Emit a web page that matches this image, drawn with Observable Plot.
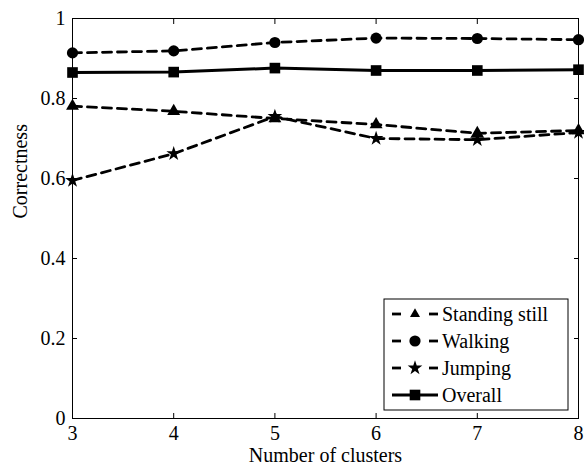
<!DOCTYPE html>
<html>
<head>
<meta charset="utf-8">
<script src="https://cdn.jsdelivr.net/npm/d3@7"></script>
<script src="https://cdn.jsdelivr.net/npm/@observablehq/plot@0.6"></script>
<style>
  html, body { margin: 0; padding: 0; background: white; }
  #chart { width: 584px; height: 469px; }
</style>
</head>
<body>
<div id="chart"></div>
<script>
const clusters = [3, 4, 5, 6, 7, 8];
const standingStill = [0.781, 0.768, 0.750, 0.735, 0.713, 0.720];
const walking = [0.914, 0.919, 0.940, 0.951, 0.950, 0.947];
const jumping = [0.595, 0.662, 0.755, 0.700, 0.697, 0.715];
const overall = [0.865, 0.866, 0.876, 0.870, 0.870, 0.872];

const seriesNames = ["Standing still", "Walking", "Jumping", "Overall"];
const seriesSymbols = ["triangle", "circle", "star", "square"];
const xTicks = [3, 4, 5, 6, 7, 8];
const yTicks = [0, 0.2, 0.4, 0.6, 0.8, 1];
const yTickLabels = ["0", "0.2", "0.4", "0.6", "0.8", "1"];
const xLabel = "Number of clusters";
const yLabel = "Correctness";

const seriesValues = [standingStill, walking, jumping, overall];
const tables = seriesValues.map(vals => clusters.map((c, i) => ({c, v: vals[i]})));

const font = "'Liberation Serif', 'DejaVu Serif', serif";
const dash = "9,6";
const dashes = [dash, dash, dash, null];
const symR = [4.8, 5.6, 4.6, 6];

const marks = [
  Plot.frame({stroke: "black", strokeWidth: 1}),
  Plot.axisX(xTicks, {anchor: "bottom", tickSize: -5, tickPadding: 12, label: null, fontSize: 20, fontFamily: font}),
  Plot.axisX(xTicks, {anchor: "top", tickSize: -5, tickFormat: () => "", label: null}),
  Plot.axisY(yTicks, {anchor: "left", tickSize: -5, tickPadding: 12, label: null, fontSize: 20, fontFamily: font,
    tickFormat: d => yTickLabels[yTicks.indexOf(d)]}),
  Plot.axisY(yTicks, {anchor: "right", tickSize: -5, tickFormat: () => "", label: null}),
];
tables.forEach((t, k) => {
  marks.push(Plot.line(t, {x: "c", y: "v", stroke: "black", strokeWidth: k === 3 ? 3 : 2.8,
    strokeDasharray: dashes[k] || undefined}));
  marks.push(Plot.dot(t, {x: "c", y: "v", symbol: () => seriesSymbols[k], r: symR[k], fill: "black", stroke: "none"}));
});
marks.push(Plot.text([xLabel], {frameAnchor: "bottom", dy: 43, text: d => d, fontSize: 20, fontFamily: font}));
marks.push(Plot.text([yLabel], {frameAnchor: "left", dx: -52, rotate: -90, text: d => d, fontSize: 20, fontFamily: font}));

const chart = Plot.plot({
  width: 584, height: 469,
  marginLeft: 72, marginRight: 6, marginTop: 18, marginBottom: 51,
  x: {domain: [3, 8]},
  y: {domain: [0, 1]},
  style: {fontFamily: font, fontSize: "20px", color: "black", background: "white", overflow: "visible"},
  marks
});
document.getElementById("chart").appendChild(chart);

// Legend (box in the lower right of the axes)
const svg = d3.select(chart);
const lg = svg.append("g").attr("text-anchor", "start");
const bx = 384, by = 299, bw = 184, bh = 111;
lg.append("rect").attr("x", bx).attr("y", by).attr("width", bw).attr("height", bh)
  .attr("fill", "white").attr("stroke", "black").attr("stroke-width", 1);
const symMap = {triangle: d3.symbolTriangle2, circle: d3.symbolCircle, star: d3.symbolStar, square: d3.symbolSquare};
const rowY = [314, 341, 368, 395];
seriesNames.forEach((name, k) => {
  const y = rowY[k];
  const x0 = bx + 8, x1 = bx + 54, xm = (x0 + x1) / 2;
  if (dashes[k]) {
    lg.append("line").attr("x1", x0).attr("x2", x0 + 9).attr("y1", y).attr("y2", y)
      .attr("stroke", "black").attr("stroke-width", 2.8);
    lg.append("line").attr("x1", x1 - 9).attr("x2", x1).attr("y1", y).attr("y2", y)
      .attr("stroke", "black").attr("stroke-width", 2.8);
  } else {
    lg.append("line").attr("x1", x0).attr("x2", x1).attr("y1", y).attr("y2", y)
      .attr("stroke", "black").attr("stroke-width", 3);
  }
  lg.append("path").attr("transform", `translate(${xm},${y})`)
    .attr("d", d3.symbol(symMap[seriesSymbols[k]], Math.PI * symR[k] * symR[k])())
    .attr("fill", "black");
  lg.append("text").attr("x", bx + 58).attr("y", y).attr("dy", "0.35em").attr("text-anchor", "start")
    .attr("font-family", font).attr("font-size", 20).attr("fill", "black").text(name);
});
</script>
</body>
</html>
